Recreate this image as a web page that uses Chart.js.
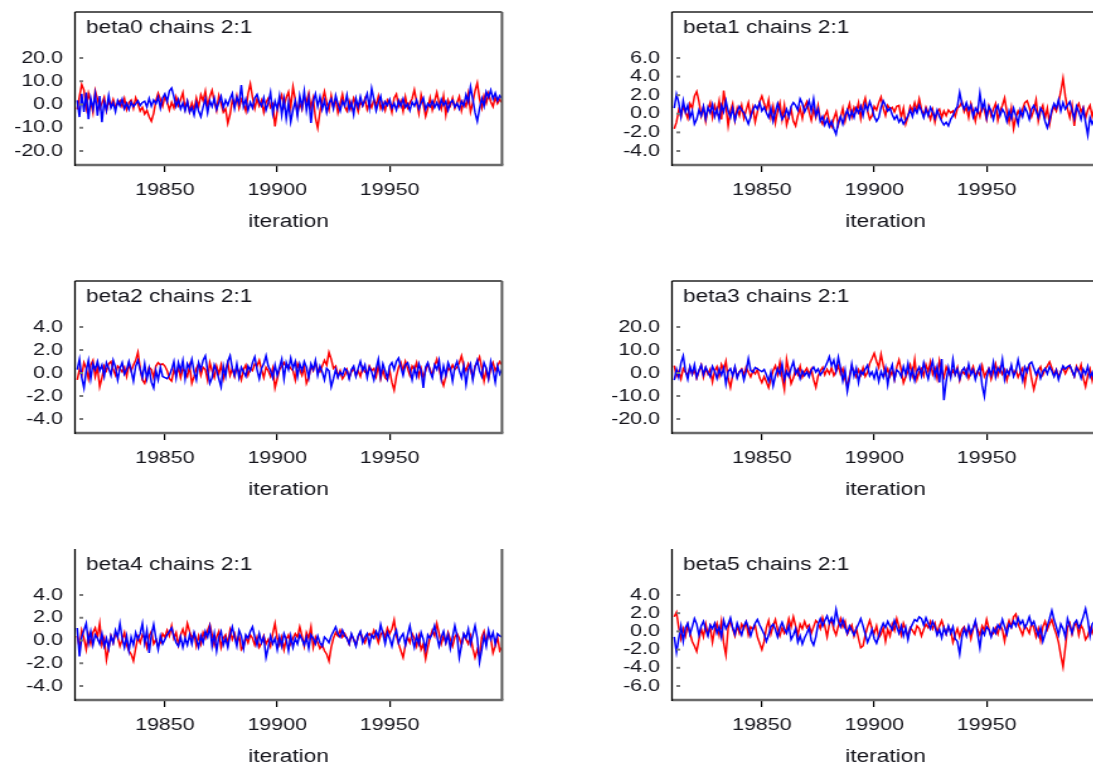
<!DOCTYPE html>
<html>
<head>
<meta charset="utf-8">
<script src="https://cdn.jsdelivr.net/npm/chart.js@4.4.1/dist/chart.umd.min.js"></script>
<style>
  html, body { margin: 0; padding: 0; background: #fff; overflow: hidden; width: 1093px; height: 767px; }
  .panel { position: absolute; transform-origin: 0 0; transform: scaleX(1.26); }
</style>
</head>
<body>
<div class="panel" style="left:0px;top:0px"><canvas id="c0" width="412" height="260"></canvas></div>
<div class="panel" style="left:597px;top:0px"><canvas id="c1" width="412" height="260"></canvas></div>
<div class="panel" style="left:0px;top:269px"><canvas id="c2" width="412" height="259"></canvas></div>
<div class="panel" style="left:597px;top:269px"><canvas id="c3" width="412" height="259"></canvas></div>
<div class="panel" style="left:0px;top:537px"><canvas id="c4" width="412" height="258"></canvas></div>
<div class="panel" style="left:597px;top:537px"><canvas id="c5" width="412" height="258"></canvas></div>
<script>
// iterations 19811 .. 20000, two chains per parameter
const firstIteration = 19811
const xTicks = [19850, 19900, 19950]

const beta0Ticks = [-20, -10, 0, 10, 20]
const beta1Ticks = [-4, -2, 0, 2, 4, 6]
const beta2Ticks = [-4, -2, 0, 2, 4]
const beta3Ticks = [-20, -10, 0, 10, 20]
const beta4Ticks = [-4, -2, 0, 2, 4]
const beta5Ticks = [-6, -4, -2, 0, 2, 4]

const beta0Red = [
  -2.1, 3.5, 8.6, 6.2, -1.4, 4.8, 1.2, -3.5, 5.9, 2.4,
  -1.8, 0.6, 3.1, -2.7, 1.5, -0.8, 2.2, -1.1, 0.4, 1.7,
  -0.9, 2.6, -2.2, 0.8, 1.9, -1.6, 2.9, 0.3, -2.8, -1.2,
  -4.1, -2.5, -5.3, -7.2, -3.8, 1.6, 4.9, 2.3, -0.7, 3.6,
  1.1, -2.4, 0.9, -1.5, 3.2, -0.4, 2.1, 5.1, -1.9, 1.3,
  -3.1, 0.7, -2.3, 2.8, -1.1, 4.2, 1.6, 5.8, -0.9, 3.4,
  6.1, 1.2, -2.6, 3.9, 0.5, -3.3, -1.8, -8.1, -4.2, 1.9,
  -0.8, 3.7, -1.6, 2.2, 0.4, -2.9, 4.6, 8.9, 3.1, -1.7,
  2.5, -0.6, 1.8, -3.4, 0.9, 2.7, -1.3, 0.2, -9.4, -2.6,
  1.4, 4.1, -0.8, 2.9, 5.4, -1.2, 7.6, 2.1, -3.7, 0.6,
  -2.2, 3.3, 1.1, 4.9, -1.4, 2.6, -5.8, -10.1, -3.2, 1.7,
  5.6, 0.8, -2.4, 3.9, -1.1, 2.3, -3.6, 0.4, 4.4, -0.9,
  -2.8, 1.5, -1.9, 2.7, 0.3, -3.1, 1.2, -0.6, 2.4, -2.2,
  0.9, -1.3, 2.1, -0.4, 3.6, -1.8, 0.7, -2.6, 1.9, 0.2,
  -3.4, 2.8, 4.5, -0.7, 1.6, -2.9, 3.3, -1.4, 0.8, 2.5,
  6.3, 1.1, -3.8, 4.2, 0.3, -5.1, -1.7, 2.9, -2.3, 1.4,
  5.2, 0.6, -2.1, 3.7, -4.4, 1.9, -0.5, 2.8, -1.6, 0.9,
  3.4, -2.7, 1.3, -0.8, 4.6, -3.2, 0.7, 5.9, 9.3, 2.4,
  -1.5, 3.8, 0.6, 4.7, 1.2, -0.9, 3.1, 0.4, 2.2, 0.8
]
const beta0Blue = [
  1.8, -5.4, 4.6, -3.2, 5.1, -6.3, 2.7, -1.9, 4.4, -4.8,
  3.6, -7.6, 1.2, -2.5, 3.9, -1.4, 0.8, -3.1, 1.7, -0.6,
  2.3, -1.8, 0.5, -2.2, 1.1, -0.9, 0.3, 1.6, -0.4, 0.9,
  1.4, -1.1, 2.6, -0.7, 1.9, 0.4, 3.2, -1.5, 2.8, 4.6,
  1.3, 5.8, 7.1, 3.4, -0.8, 2.1, -1.9, 0.6, -2.7, 1.4,
  -3.3, -1.2, -4.6, 0.7, -2.8, -5.2, -1.1, 2.3, -3.6, 1.5,
  -0.9, 2.7, -2.1, 0.8, 3.5, -1.4, 1.9, -0.3, 2.6, 4.8,
  -1.6, 3.1, 0.4, 8.4, -0.9, 2.2, -2.6, 0.9, -1.5, 2.8,
  4.3, 1.1, -0.7, 2.9, -2.4, 0.6, 5.2, -3.8, 1.4, -1.9,
  3.7, -4.6, 2.2, -6.1, 0.8, -7.4, -2.3, 1.6, -4.9, 3.8,
  -1.2, 5.7, -2.6, 2.9, -7.9, 1.4, 4.6, -0.8, 3.3, -2.1,
  1.8, -3.4, 0.6, 2.4, -1.7, 3.9, 0.2, -2.8, 1.5, -0.6,
  4.1, -2.2, 0.9, -4.3, 2.6, -1.1, 3.4, -0.5, 1.8, 4.7,
  -1.4, 6.9, 2.3, -2.7, 0.8, 3.6, -1.9, 1.2, -0.4, 2.1,
  -1.6, 0.5, -2.3, 1.7, -0.8, 2.4, -1.2, 0.3, -2.6, 1.1,
  -0.7, 1.9, -1.8, 0.6, 2.8, -2.1, 0.4, -0.9, 1.5, -1.3,
  0.8, -1.7, 2.2, -0.4, 1.3, -2.5, 0.7, 1.8, -1.1, 0.5,
  -1.9, 1.4, -0.6, 4.2, 1.1, 7.6, 2.3, -3.4, -7.2, -1.8,
  2.6, -0.7, 5.4, 3.1, 6.2, 2.4, 4.9, 1.7, 3.8, 2.6
]

const beta1Red = [
  -1.6, -0.9, 0.4, -0.3, 0.8, 0.2, -0.5, 1.1, 0.6, 1.9,
  2.4, 1.3, -0.2, 0.7, -0.8, 0.5, 1.2, -0.4, 0.9, 0.1,
  1.4, -0.6, 2.5, 0.8, -1.3, 0.3, 1.1, -0.7, 0.6, -0.2,
  0.9, -0.5, 0.4, 1.2, -0.3, 0.7, -0.9, 0.2, 1.3, 1.9,
  1.1, 0.4, 1.5, -0.4, 0.8, -1.0, 0.3, 1.2, -0.6, 0.9,
  -1.2, -0.3, 0.5, -0.8, -1.3, -0.2, 0.6, -0.5, 0.8, 1.3,
  0.2, -0.7, 0.5, -0.4, 0.9, -0.6, -1.1, -0.2, 0.3, -0.9,
  -1.4, -0.5, 0.2, -1.2, -0.4, 0.6, -0.8, 0.3, 1.1, -0.3,
  0.7, 0.2, 1.2, -0.5, 0.9, 1.7, 0.3, -0.6, -0.2, 0.8,
  0.4, 1.2, 1.8, 0.6, -0.2, 0.9, 0.5, 0.7, 0.2, 0.8,
  0.9, -0.4, 0.6, -1.1, -0.3, 0.8, 0.3, 1.2, 0.4, 1.6,
  0.5, -0.2, 0.7, 0.1, -0.6, 0.4, -0.9, 0.2, 0.5, -0.4,
  0.3, -0.2, 0.4, 0.1, 0.3, -0.3, 0.6, 0.8, 1.3, 0.2,
  0.7, -0.4, 1.1, 0.3, -0.8, 0.5, -0.3, 0.9, 0.4, -0.6,
  0.8, -0.2, 0.5, 1.1, -0.7, 0.3, 0.9, 1.7, 0.2, -0.9,
  0.6, -1.6, -0.4, 0.3, -0.2, 0.5, 1.2, 1.4, 0.7, -0.3,
  0.4, 1.5, -0.8, 0.3, 0.9, -0.5, 0.6, -1.1, 0.2, 0.8,
  0.3, 1.2, 2.4, 3.8, 1.9, 0.5, -0.4, 0.9, -1.3, 0.6,
  1.1, 0.2, 0.7, -0.5, 0.4, 0.9, -0.3, 0.6, 0.2, 0.5
]
const beta1Blue = [
  0.6, 2.1, 1.2, -0.3, 1.4, 0.2, 0.9, -0.4, 0.3, -1.1,
  -0.6, 0.4, -0.2, 0.8, -0.5, 0.7, 0.1, 1.0, -0.3, 0.5,
  -0.6, 0.9, 0.2, 1.4, 0.3, -0.4, 0.6, -0.7, 0.2, 0.8,
  0.4, 0.1, -0.5, -1.1, -0.3, 0.4, 0.9, 0.5, 1.2, 0.3,
  0.7, 0.1, -0.4, 0.6, -0.8, 0.2, 1.1, 0.3, -0.6, -0.2,
  0.5, -0.3, 0.8, 1.2, 0.9, 0.4, 1.6, 1.1, 0.2, 0.7,
  1.4, 0.3, 1.6, -0.2, 0.5, -0.8, -0.3, -1.2, -0.6, -1.4,
  -0.8, -1.6, -2.2, -0.9, -0.3, -1.1, -0.2, 0.4, -0.5, 0.3,
  -0.4, 0.6, 0.1, 0.8, -0.2, 1.0, 0.4, 1.3, 0.6, -0.3,
  -0.8, -0.4, 0.7, 1.4, 0.9, 0.3, 0.6, -0.1, -0.6, -0.2,
  -0.9, -0.5, -1.1, -0.7, -0.2, 0.4, -0.3, 0.6, 0.1, 0.9,
  0.3, -0.4, 0.5, -0.2, 0.7, 0.2, -0.5, 0.4, -0.3, -0.8,
  -1.2, -0.9, -1.3, -0.6, -0.2, 0.4, 0.8, 2.3, 1.1, 0.5,
  1.2, 0.4, 0.9, -0.3, 0.6, 0.2, 2.2, 0.5, 1.3, -0.4,
  0.8, 0.3, -0.6, 0.4, 0.9, -0.2, 0.5, 0.1, -0.8, 0.3,
  -0.5, 0.6, -0.2, -1.1, 0.4, -0.3, 0.7, 0.2, -0.6, 0.5,
  0.9, 0.3, -0.4, 0.6, 0.2, -0.8, -1.5, -0.7, 0.4, 1.1,
  0.6, 1.5, 0.3, 1.2, 0.5, 0.9, 1.3, 0.4, -0.5, 0.8,
  0.2, -0.6, 0.5, -0.9, -2.3, -0.4, -1.1, -0.6, -0.9, -0.8
]

const beta2Red = [
  -0.6, 0.3, -0.2, 0.9, 0.4, -0.5, 0.7, 1.1, -0.3, 0.5,
  -1.2, -0.4, 0.6, 0.2, 0.8, 1.0, 0.3, -0.2, 0.6, 0.4,
  0.1, 0.5, -0.3, 0.8, 0.2, 0.7, 1.1, 1.8, 0.4, -0.6,
  -0.9, -0.2, 0.5, 0.3, -0.4, 0.6, 0.9, 0.7, 0.8, 0.6,
  0.2, -0.5, -0.7, 0.3, -0.2, 0.5, -0.4, 0.4, 0.1, -0.3,
  0.6, -0.9, -0.3, 0.4, 0.8, -0.2, 0.5, 0.3, -0.6, 0.9,
  0.2, -0.4, 0.6, -0.1, 0.7, -0.5, 0.3, 0.9, -0.2, 0.4,
  -0.3, 0.5, 0.1, -0.6, 0.3, 0.7, -0.2, 0.4, 0.2, 0.8,
  0.6, 1.1, 0.3, -0.4, 0.5, 0.2, -0.3, 0.4, -1.3, -0.5,
  0.3, 0.6, 0.9, 0.5, 0.7, 0.4, 0.2, -0.6, 0.8, 0.3,
  -0.2, 0.5, -0.9, -0.4, 0.6, 0.2, 0.9, 0.3, 0.1, 0.6,
  1.1, 0.7, 1.8, 1.2, 0.4, 0.6, -0.3, 0.2, -0.5, -0.2,
  0.3, -0.4, 0.1, 0.4, -0.2, 0.2, -0.3, 0.5, 0.1, -0.1,
  0.6, 0.2, 0.4, -0.3, 0.7, -0.5, 0.3, -0.4, -0.6, 0.2,
  -0.8, -1.5, -0.3, 0.5, 0.9, 0.2, 1.0, 0.4, -0.2, 0.6,
  0.3, 0.9, -0.3, 0.4, -0.4, 0.2, 0.8, 0.3, -0.2, 0.6,
  1.2, 0.4, -0.5, -1.1, -0.3, 0.5, 0.2, 0.7, 0.3, 0.5,
  0.9, 1.5, 0.6, 0.2, 0.8, 0.3, -0.4, 0.6, 0.9, 1.4,
  0.5, -0.7, 0.3, -0.5, 0.4, 0.9, 0.2, 0.6, 1.0, 0.7
]
const beta2Blue = [
  0.3, 1.2, -0.4, -1.3, 0.2, 1.1, -0.5, 0.8, 0.3, 1.0,
  0.2, 0.7, -0.3, 0.9, 0.4, -0.2, 1.1, 0.5, -0.6, 0.4,
  0.9, -0.1, 0.3, 1.0, 0.2, -0.7, 0.6, 1.1, 0.3, -0.4,
  0.8, -0.5, 0.4, -0.8, -1.3, 0.2, -0.6, 0.5, -0.3, -0.4,
  -0.5, -0.2, 0.3, 1.0, -0.4, 0.9, 0.2, 1.1, -0.5, 0.8,
  0.4, 1.2, 0.1, -0.6, 0.9, 0.3, 1.1, 1.5, 0.2, -0.9,
  -0.4, 0.7, 0.2, -0.5, -1.2, 0.6, -0.3, 1.0, 1.5, 0.4,
  -0.2, 0.8, -0.4, 0.5, 0.1, -0.3, 0.6, 0.2, 0.9, 1.4,
  0.3, -0.5, 0.4, 0.8, 1.5, 0.6, 0.2, -0.4, 0.7, -0.2,
  0.5, 1.2, -0.5, 0.9, 0.3, 1.3, 0.4, 1.0, -0.3, 0.8,
  0.2, 1.0, 0.5, -0.4, 0.8, 0.3, 1.1, -0.2, 0.6, 0.1,
  -0.6, 0.4, 0.2, -1.2, -0.5, 0.3, -0.4, 0.1, -0.2, 0.4,
  0.2, -0.5, 0.3, 0.6, -0.3, 0.4, 1.0, 0.2, 0.7, -0.4,
  0.5, 0.1, -0.6, 0.4, 1.2, -0.3, 0.8, 0.2, -0.5, 0.6,
  0.9, 0.3, 1.0, 1.3, 0.5, -0.2, 0.7, 0.9, 0.3, -0.6,
  0.4, -0.3, 0.8, 0.2, -1.3, 0.5, 0.9, 0.1, -0.4, 0.7,
  0.3, 1.1, -0.5, 0.6, -0.2, 0.9, 0.4, -0.7, 0.5, 1.0,
  0.2, -0.4, 0.6, -1.0, 0.3, 0.8, -0.6, 0.5, 1.1, 0.2,
  -0.3, 0.9, 0.4, -0.5, 1.0, 0.2, -0.8, 0.6, -0.1, 0.3
]

const beta3Red = [
  3.2, -1.4, 0.8, -2.6, 1.9, 0.4, -1.1, 2.5, -0.6, 1.3,
  -2.2, 0.7, 3.4, -1.8, 2.1, -0.5, 1.6, -3.9, 0.9, 2.8,
  -1.3, 3.7, 1.2, 5.1, -2.4, -6.3, -0.8, 2.2, -1.6, 0.5,
  1.8, -0.9, 2.6, 0.3, -1.7, 0.9, -0.4, 1.5, -2.1, -4.2,
  -1.6, -3.8, -6.4, -2.5, 1.1, 3.2, -0.6, 4.7, -1.9, -7.1,
  5.9, 0.8, -4.6, -2.2, 1.4, -0.7, 2.9, -1.8, 0.6, 2.1,
  -0.5, 1.7, -2.9, -6.2, -1.3, 0.9, 2.4, -0.8, 1.6, -0.3,
  2.2, -1.1, 0.7, 3.1, -0.4, 1.9, -2.6, -5.8, -1.2, 2.8,
  0.6, -1.7, 1.4, -0.9, 2.3, -1.5, 0.3, 4.2, 6.3, 8.6,
  5.1, 2.4, 8.2, 3.3, -0.7, 1.8, -1.4, 0.9, -2.8, 2.6,
  5.7, 1.2, -4.3, -1.6, 0.8, 3.5, -0.9, 5.8, -2.7, 0.4,
  1.9, -1.2, 3.6, 0.6, 4.9, -0.5, 2.1, -2.4, 5.4, 0.8,
  -1.8, 2.7, 0.3, -1.5, 1.2, -0.7, 2.4, -3.1, 0.9, -0.4,
  1.6, -2.3, 0.5, 2.8, -1.4, 0.7, -0.9, 3.2, -1.6, 0.4,
  1.9, -2.7, 0.6, 3.9, -1.1, 2.3, -0.5, 1.4, -3.2, 0.8,
  2.6, -0.6, 1.3, -1.9, 0.4, 2.1, -4.8, 1.5, 3.4, -2.6,
  -7.2, -3.1, 0.9, 2.7, -0.8, 1.6, 3.1, 4.8, 2.2, -0.9,
  1.4, -1.7, 0.6, 2.4, -0.3, 1.8, 3.3, 0.7, -1.5, 2.9,
  0.5, 3.6, -2.2, -5.9, -1.1, 1.7, -3.4, 0.8, -2.1, -0.6
]
const beta3Blue = [
  -3.1, 1.6, -1.8, 4.3, 7.4, 0.9, -2.7, 2.8, -0.4, 3.6,
  -1.9, 1.2, 3.4, -0.7, 2.5, 0.3, -1.6, 2.9, 0.8, -2.4,
  1.7, -0.9, 2.2, -4.8, 0.6, 1.9, -1.3, 2.7, -2.2, 0.5,
  1.4, -3.1, 0.8, 6.2, 1.1, 0.3, 2.4, 1.8, 1.2, 0.6,
  1.5, -0.8, -3.6, 0.4, -5.6, -1.2, 1.9, -0.6, 3.8, -2.9,
  0.7, -1.5, 2.1, 4.9, -0.3, 1.6, -2.4, 0.9, -1.1, 0.5,
  -1.7, 1.3, 2.6, 0.4, 1.8, -0.9, 0.6, 2.3, 4.4, 7.1,
  3.2, 5.6, 0.9, 6.8, 2.1, -3.4, 1.2, -7.9, -2.6, 3.9,
  -1.4, 2.1, -4.2, 0.8, -0.6, 1.7, 3.4, -1.2, 0.5, -2.3,
  1.4, -3.7, 0.6, -1.9, 2.2, -5.1, 0.9, 3.6, -2.8, 1.3,
  0.4, -1.6, 2.8, -0.7, 4.1, -2.2, 1.5, -3.3, 0.7, 2.6,
  -1.2, 4.4, 0.8, -2.6, 1.9, 5.2, -1.4, 2.7, -4.1, 6.1,
  -11.8, -3.6, 2.4, -1.9, 5.8, -0.8, 1.6, -2.7, 0.9, 2.3,
  -1.1, 3.8, -0.6, 1.4, -2.9, 0.7, 3.1, -5.4, -10.2, -2.1,
  1.8, -0.9, 4.6, -1.7, 2.2, 0.4, 5.9, -2.8, 1.3, -0.6,
  3.4, -1.5, 0.8, 5.7, 1.2, -3.1, 2.6, 0.5, 3.9, 4.8,
  2.1, -0.7, 1.5, -2.3, 0.6, 1.9, -0.4, 2.7, 0.9, -1.6,
  1.2, -2.9, 0.4, 3.1, 1.7, 2.8, 3.3, 1.1, -1.4, 2.4,
  0.8, -2.2, 1.6, -0.5, 2.9, -1.8, 0.3, -3.6, 1.4, -0.9
]

const beta4Red = [
  0.4, -0.6, 0.9, 0.2, -0.8, 0.5, -0.3, 0.7, 1.1, 0.3,
  1.5, -0.4, 0.2, -1.7, -0.6, 0.4, -0.2, 0.6, 0.3, -0.5,
  0.1, 0.7, -0.4, -0.9, -1.2, -1.8, -0.7, 0.3, -0.2, 0.5,
  0.2, -0.6, 0.4, 0.8, -0.3, 0.1, -0.5, -0.2, 0.6, 0.3,
  0.9, 0.4, 1.3, 0.2, 0.7, -0.4, 0.5, 1.0, 0.3, 1.5,
  0.8, 0.2, 0.6, -0.5, 0.4, -0.3, 0.7, 0.2, 0.9, 1.4,
  0.5, -0.4, 0.3, 0.8, -0.6, 0.2, 0.5, -0.3, 0.9, 0.1,
  0.6, -0.2, 0.4, -0.8, -0.5, 0.3, -0.2, 0.5, 0.2, -0.4,
  0.3, -0.6, -0.2, 0.4, -0.3, 0.1, -0.5, 0.6, 1.5, 0.2,
  -0.4, 0.3, -0.8, 0.1, 0.5, -0.3, 0.2, 0.6, 0.3, 1.2,
  0.4, -0.5, 0.7, 0.2, 1.2, -0.6, 0.3, -0.2, -0.7, -0.4,
  -0.9, -1.2, -1.8, -0.6, 0.2, 0.7, 0.4, 0.9, 0.3, 0.6,
  0.2, -0.3, 0.5, 0.1, -0.4, 0.3, 0.7, 0.2, -0.2, 0.4,
  0.6, 0.3, 0.9, 0.4, -0.2, 0.5, 0.8, 0.3, 1.1, 0.6,
  1.0, 1.8, 0.4, -0.3, -0.9, -1.5, -0.4, 0.3, -0.2, 0.6,
  0.2, -0.5, 0.4, -0.8, -0.3, -1.6, -0.6, 0.3, 0.9, 0.4,
  1.5, 0.6, -0.3, 0.4, -0.2, 0.7, 0.1, -0.5, 0.3, 0.6,
  0.2, -0.4, 0.5, 0.1, -0.3, 0.4, -0.7, -1.5, -0.8, -1.4,
  0.3, 0.8, -0.2, 0.6, 0.2, -1.1, -0.5, 0.3, -0.9, -0.6
]
const beta4Blue = [
  1.1, -1.4, 0.3, 0.9, 1.5, -0.2, 0.8, -0.4, 0.5, 0.2,
  -0.3, 0.6, -0.5, 0.2, -0.7, 0.4, -0.2, 0.9, 0.3, 1.5,
  0.2, -0.6, 0.4, -0.9, 0.3, -0.4, 0.7, 0.1, 0.6, 1.5,
  -0.2, 0.9, -1.1, 0.5, 1.4, 0.2, -0.8, 0.4, -0.3, 0.1,
  0.5, 0.8, 1.1, 0.4, -0.2, -0.5, 0.3, -0.6, 0.2, -0.4,
  0.5, -0.3, 0.7, 0.1, -0.6, 0.4, -0.2, 0.8, 0.3, 1.2,
  -0.5, 0.6, -0.9, 0.3, 0.8, -0.4, 0.2, -0.6, 0.5, 1.2,
  0.3, -0.5, 0.9, 0.4, -0.7, 0.5, 0.2, 0.8, 1.2, 0.3,
  -0.4, 0.6, -0.2, 0.3, -1.5, -0.6, 0.4, -0.3, 0.2, -0.8,
  0.3, -0.5, 0.6, 0.1, -0.9, 0.4, -0.6, 0.2, -0.3, 0.5,
  0.1, -0.4, 0.3, -0.7, 0.5, 0.2, -0.3, 0.4, -0.2, -0.5,
  0.3, 0.1, -0.2, 0.4, 0.8, 1.2, 0.6, 0.3, 0.9, 0.4,
  0.2, -0.3, 0.6, 0.1, -0.5, 0.4, 0.8, -0.2, 0.3, 0.6,
  -0.4, 0.5, 0.2, 0.8, 0.3, 1.4, 0.6, -0.3, 0.7, 0.2,
  -0.5, 0.4, 0.9, -0.2, 0.3, 0.6, -0.4, 0.5, 1.3, 0.2,
  -0.6, 0.4, -0.3, 0.7, 0.1, -0.8, 0.5, 0.2, 0.6, 1.3,
  0.4, -0.5, 0.3, 0.8, -0.2, 0.5, -0.7, 0.3, 1.3, 0.4,
  -1.5, -0.4, 0.6, 0.2, 1.0, -0.3, 0.5, 1.3, 0.2, -1.9,
  -0.8, 0.4, -0.5, 0.9, 0.1, 0.7, -0.3, 0.6, 0.4, 0.3
]

const beta5Red = [
  1.6, 2.1, 0.4, -0.8, 0.3, -0.5, 0.7, -0.2, -1.1, -1.6,
  -2.2, -0.9, 0.3, -0.6, 0.8, -0.3, 0.5, -1.2, 0.2, 0.9,
  -0.4, 1.1, -1.3, -2.6, 0.4, 1.2, 0.3, -0.5, 0.6, -0.2,
  0.8, 0.3, 1.0, -0.4, 0.5, 0.2, 0.7, -0.6, -1.3, -2.0,
  -1.1, 0.4, 1.2, -0.3, 0.6, 1.3, 0.2, -0.5, 0.4, -0.2,
  0.3, 1.4, 0.5, 1.6, 0.6, -0.4, 0.8, 0.3, 1.1, 0.4,
  0.7, -0.2, 0.5, 1.2, 0.9, 0.3, 1.5, 0.6, -0.6, 0.8,
  1.3, 0.2, -0.4, 0.6, 1.4, 0.5, 1.1, -0.3, 0.2, 0.7,
  -0.5, 0.3, -0.8, -1.8, -1.6, -0.4, 0.5, 1.2, 0.3, -0.2,
  0.6, -0.7, -0.3, 0.4, -1.1, 0.2, -0.5, 0.8, 0.1, 1.4,
  0.5, -0.4, 0.9, 0.2, -0.6, 0.4, 0.1, -0.3, 0.6, 0.3,
  -0.5, 0.2, 0.8, 0.4, 1.1, 0.3, 0.9, -0.2, 0.6, 1.2,
  0.4, -0.3, 0.5, 0.1, -1.2, -0.4, 0.3, -0.6, 0.2, 0.5,
  -0.2, 0.4, -0.8, 0.3, 1.0, 0.2, -0.4, 0.6, 0.1, 1.3,
  0.3, -0.5, -0.2, 0.4, -0.3, 0.7, 0.2, -1.1, 0.4, 1.2,
  0.5, 1.6, 1.9, 0.8, 0.2, -0.4, 0.6, 0.3, -0.2, 0.9,
  0.4, -0.6, 0.3, -1.0, 0.5, 1.1, 0.2, 0.8, 1.3, 0.4,
  -0.3, -1.2, -2.6, -3.9, -1.8, 0.4, 0.9, -0.3, 0.6, 1.0,
  -0.4, 0.7, 0.2, -0.9, -0.5, 0.4, -0.2, 0.6, -0.7, -0.3
]
const beta5Blue = [
  -0.6, -2.3, -0.8, 0.6, -1.1, 0.4, 0.9, -0.3, 0.5, 1.4,
  0.8, -0.4, 0.6, 1.1, 0.2, -0.5, 0.7, 0.3, 0.9, -0.2,
  0.5, -0.6, 1.2, 0.3, 0.8, 1.5, 0.4, -0.3, 0.9, 0.2,
  -0.4, 0.6, 1.1, 0.4, -0.5, 0.3, 0.9, 1.3, 0.7, 0.2,
  -0.3, -1.1, -0.4, 0.5, 0.8, 0.2, -0.6, 0.4, 1.0, 0.3,
  -0.2, 0.6, -0.9, -0.4, 0.3, -1.2, -0.5, -1.4, -0.7, -0.2,
  0.4, -1.0, -1.5, -0.6, 0.8, 1.4, 0.6, 1.2, 1.7, 0.9,
  1.5, 0.8, 2.4, 1.1, 0.5, 1.3, 0.4, -0.2, 0.6, 0.1,
  -0.4, 0.3, 0.8, 1.4, 0.6, -0.3, -1.2, -0.6, 0.2, -0.8,
  -1.3, -0.5, 0.3, 0.9, 0.4, 1.1, 0.6, 0.2, 1.2, 0.5,
  -0.2, 0.6, -0.5, 0.4, -0.9, 0.3, 0.8, 1.3, 1.1, 1.6,
  1.4, 0.7, 1.5, 0.9, 0.3, 1.1, 0.5, -0.4, 0.2, -0.7,
  0.4, -0.3, 0.6, -0.2, 0.5, -0.8, -1.1, -2.5, -0.6, 0.3,
  -0.5, 0.6, -0.2, 0.4, 1.2, -0.3, -1.8, 0.1, -0.4, 0.5,
  0.2, -0.6, 0.3, -0.2, 0.7, 0.3, 1.3, 0.5, -0.3, 0.8,
  0.4, 1.1, 0.6, 1.5, 0.8, 1.2, 0.4, 0.9, 1.6, 0.7,
  1.1, 0.3, -0.5, 0.4, -1.1, -0.3, 0.6, 1.4, 2.3, 1.3,
  0.5, -0.4, 0.8, 0.3, -0.6, 1.4, 0.6, -0.2, 0.9, 1.2,
  0.4, 0.9, 1.6, 2.5, 1.3, -0.5, 0.8, 1.1, 0.3, 1.2
]

const iterations = beta0Red.map((_, i) => firstIteration + i)

const panels = [
  { name: 'beta0', red: beta0Red, blue: beta0Blue, ticks: beta0Ticks, top: true },
  { name: 'beta1', red: beta1Red, blue: beta1Blue, ticks: beta1Ticks, top: true },
  { name: 'beta2', red: beta2Red, blue: beta2Blue, ticks: beta2Ticks, top: true },
  { name: 'beta3', red: beta3Red, blue: beta3Blue, ticks: beta3Ticks, top: true },
  { name: 'beta4', red: beta4Red, blue: beta4Blue, ticks: beta4Ticks, top: false },
  { name: 'beta5', red: beta5Red, blue: beta5Blue, ticks: beta5Ticks, top: false }
]

const FONT = '"Liberation Sans", Arial, sans-serif'
const TEXT = '#15151c'
const AXIS_W = 59.5   // y axis width (unstretched px)
const XAXIS_H = 95

// frame, inner y tick dashes and the panel label
const framePlugin = {
  id: 'frame',
  afterDraw(chart, args, opts) {
    const { ctx, chartArea: a } = chart
    const y = chart.scales.y
    ctx.save()
    ctx.lineCap = 'butt'
    // y tick dashes drawn inside the box
    ctx.strokeStyle = '#7a7a7a'
    ctx.lineWidth = 2
    y.ticks.forEach(t => {
      const py = y.getPixelForValue(t.value)
      ctx.beginPath()
      ctx.moveTo(a.left + 3.5, py)
      ctx.lineTo(a.left + 6.5, py)
      ctx.stroke()
    })
    // box
    ctx.strokeStyle = '#5a5a5a'
    ctx.lineWidth = 2
    ctx.beginPath()
    if (opts.top) {
      ctx.moveTo(a.left, a.top)
      ctx.lineTo(a.right, a.top)
    }
    ctx.moveTo(a.right, a.top)
    ctx.lineTo(a.right, a.bottom)
    ctx.stroke()
    ctx.strokeStyle = '#6a6a6a'
    ctx.lineWidth = 2.4
    ctx.beginPath()
    ctx.moveTo(a.left, a.bottom)
    ctx.lineTo(a.right + 1, a.bottom)
    ctx.stroke()
    ctx.strokeStyle = '#000'
    ctx.lineWidth = 1.3
    ctx.beginPath()
    ctx.moveTo(a.left, a.top)
    ctx.lineTo(a.left, a.bottom + 1)
    ctx.stroke()
    // label
    ctx.fillStyle = TEXT
    ctx.font = '18px ' + FONT
    ctx.textBaseline = 'alphabetic'
    ctx.textAlign = 'left'
    ctx.fillText(opts.title, a.left + 8.7, a.top + 21)
    ctx.restore()
  }
}

panels.forEach((p, k) => {
  const canvas = document.getElementById('c' + k)
  const H = canvas.height - 12 - XAXIS_H
  const tmin = Math.min(...p.ticks), tmax = Math.max(...p.ticks)
  const u = (tmax - tmin) / (H - 60)

  new Chart(canvas, {
    type: 'line',
    data: {
      labels: iterations,
      datasets: [
        { data: p.blue, borderColor: '#0000ff', borderWidth: 1.5, pointRadius: 0, tension: 0 },
        { data: p.red, borderColor: '#ff0000', borderWidth: 1.5, pointRadius: 0, tension: 0 }
      ]
    },
    options: {
      responsive: false,
      animation: false,
      devicePixelRatio: 1,
      layout: { padding: { left: 0, top: 12, right: 13.6, bottom: 0 } },
      plugins: {
        legend: { display: false },
        tooltip: { enabled: false },
        frame: { title: p.name + ' chains 2:1', top: p.top }
      },
      scales: {
        x: {
          type: 'linear',
          min: 19810,
          max: 20000,
          afterBuildTicks: s => { s.ticks = xTicks.map(v => ({ value: v })) },
          afterFit: s => { s.height = XAXIS_H; s.paddingLeft = 0; s.paddingRight = 0 },
          grid: { drawOnChartArea: false, drawTicks: true, tickLength: 7, color: '#000', lineWidth: 1.2 },
          border: { display: false },
          ticks: { autoSkip: false, maxRotation: 0, padding: 8, color: TEXT, font: { family: FONT, size: 17 }, callback: v => String(v) },
          title: { display: true, text: 'iteration', color: TEXT, font: { family: FONT, size: 18 }, padding: { top: 0, bottom: 27 } }
        },
        y: {
          min: tmin - 14 * u,
          max: tmax + 46 * u,
          afterBuildTicks: s => { s.ticks = p.ticks.map(v => ({ value: v })) },
          afterFit: s => { s.width = AXIS_W; s.paddingTop = 0; s.paddingBottom = 0 },
          grid: { display: false, drawTicks: false },
          border: { display: false },
          ticks: { autoSkip: false, padding: 9.5, color: TEXT, font: { family: FONT, size: 17 }, callback: v => v.toFixed(1) }
        }
      }
    },
    plugins: [framePlugin]
  })
})
</script>
</body>
</html>
